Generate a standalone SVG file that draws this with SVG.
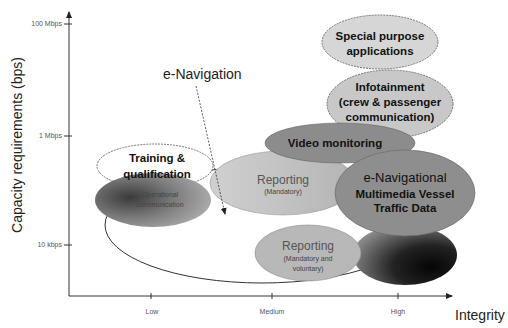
<svg xmlns="http://www.w3.org/2000/svg" width="508" height="328" viewBox="0 0 508 328">
<defs>
<style>
text{font-family:"Liberation Sans",Arial,sans-serif;}
.axis{stroke:#333;stroke-width:1;fill:none}
.tick{font-size:7px;fill:#555}
.lbl{font-size:14px;fill:#222}
.b{font-size:11.5px;font-weight:bold;fill:#111;text-anchor:middle}
.s{font-size:7px;fill:#444;text-anchor:middle}
.halo{stroke:#555;stroke-width:0.8;stroke-dasharray:2 1}
</style>
<radialGradient id="gDark" cx="0.3" cy="0.45" r="0.75">
<stop offset="0" stop-color="#3a3a3a"/><stop offset="0.5" stop-color="#7a7a7a"/><stop offset="1" stop-color="#b0b0b0"/>
</radialGradient>
<radialGradient id="gBlack" cx="0.75" cy="0.7" r="0.8">
<stop offset="0" stop-color="#050505"/><stop offset="0.45" stop-color="#222"/><stop offset="1" stop-color="#8a8a8a"/>
</radialGradient>
<linearGradient id="gRep" x1="0" y1="0" x2="1" y2="0">
<stop offset="0" stop-color="#d0d0d0"/><stop offset="1" stop-color="#b4b4b4"/>
</linearGradient>
<marker id="arr" markerWidth="8" markerHeight="8" refX="6" refY="4" orient="auto" markerUnits="userSpaceOnUse">
<path d="M0,1 L7,4 L0,7 Z" fill="#222"/>
</marker>
</defs>
<rect width="508" height="328" fill="#fff"/>

<g id="axes">
<line class="axis" x1="69" y1="296" x2="69" y2="12" marker-end="url(#arr)"/>
<line class="axis" x1="69" y1="296" x2="452" y2="296" marker-end="url(#arr)"/>
<line class="axis" x1="64" y1="24" x2="72" y2="24"/>
<line class="axis" x1="64" y1="136" x2="72" y2="136"/>
<line class="axis" x1="64" y1="245" x2="72" y2="245"/>
<line class="axis" x1="151" y1="293" x2="151" y2="299"/>
<line class="axis" x1="272" y1="293" x2="272" y2="299"/>
<line class="axis" x1="398" y1="293" x2="398" y2="299"/>
<text class="tick" x="62" y="26" text-anchor="end">100 Mbps</text>
<text class="tick" x="62" y="138" text-anchor="end">1 Mbps</text>
<text class="tick" x="62" y="247" text-anchor="end">10 kbps</text>
<text class="tick" x="152" y="314" text-anchor="middle">Low</text>
<text class="tick" x="272" y="314" text-anchor="middle">Medium</text>
<text class="tick" x="398" y="314" text-anchor="middle">High</text>
<text class="lbl" x="455" y="320">Integrity</text>
<text class="lbl" transform="translate(22,145) rotate(-90)" text-anchor="middle">Capacity requirements (bps)</text>
</g>

<g id="enav-scope">
<ellipse cx="262" cy="225" rx="157" ry="58" fill="none" stroke="#333" stroke-width="1"/>
</g>

<g id="special">
<ellipse class="halo" cx="380" cy="42" rx="58" ry="27" fill="#d6d6d6"/>
<text class="b" x="380" y="40">Special purpose</text>
<text class="b" x="380" y="55">applications</text>
</g>

<g id="infotainment">
<ellipse class="halo" cx="390" cy="104" rx="63" ry="34" fill="#c8c8c8"/>
<text class="b" x="390" y="91">Infotainment</text>
<text class="b" x="390" y="106">(crew &amp; passenger</text>
<text class="b" x="390" y="121">communication)</text>
</g>

<g id="reporting-mand">
<ellipse cx="283" cy="183" rx="73" ry="32" fill="url(#gRep)" stroke="#999" stroke-width="0.6"/>
<text x="283" y="184" font-size="12" fill="#555" text-anchor="middle">Reporting</text>
<text class="s" x="283" y="194">(Mandatory)</text>
</g>

<g id="video">
<ellipse cx="340" cy="143" rx="75" ry="20" fill="#8c8c8c" stroke="#666" stroke-width="0.6"/>
<text class="b" x="335" y="147">Video monitoring</text>
</g>

<g id="training">
<ellipse class="halo" cx="155" cy="166" rx="58" ry="22" fill="#fff"/>
</g>

<g id="operational">
<ellipse cx="153" cy="200" rx="58" ry="27" fill="url(#gDark)"/>
<text class="s" x="160" y="197" fill="#333">Operational</text>
<text class="s" x="160" y="207" fill="#333">communication</text>
</g>

<g id="training-text">
<text class="b" x="157" y="162">Training &amp;</text>
<text class="b" x="157" y="178">qualification</text>
</g>

<g id="black-blob">
<ellipse cx="405" cy="255" rx="52" ry="30" fill="url(#gBlack)"/>
</g>

<g id="emultimedia">
<ellipse cx="405" cy="193" rx="70" ry="43" fill="#8e8e8e" stroke="#666" stroke-width="0.6"/>
<text x="405" y="182" font-size="13" fill="#111" text-anchor="middle">e-Navigational</text>
<text class="b" x="405" y="198">Multimedia Vessel</text>
<text class="b" x="405" y="212">Traffic Data</text>
</g>

<g id="reporting-vol">
<ellipse cx="308" cy="253" rx="53" ry="28" fill="#b8b8b8" stroke="#888" stroke-width="0.6"/>
<text x="308" y="250" font-size="12" fill="#555" text-anchor="middle">Reporting</text>
<text class="s" x="308" y="261">(Mandatory and</text>
<text class="s" x="308" y="271">voluntary)</text>
</g>

<g id="connectors">
<text class="lbl" x="163" y="79">e-Navigation</text>
<line x1="196" y1="86" x2="225" y2="214" stroke="#333" stroke-width="0.8" stroke-dasharray="2 1.5" marker-end="url(#arr)"/>
</g>
</svg>
